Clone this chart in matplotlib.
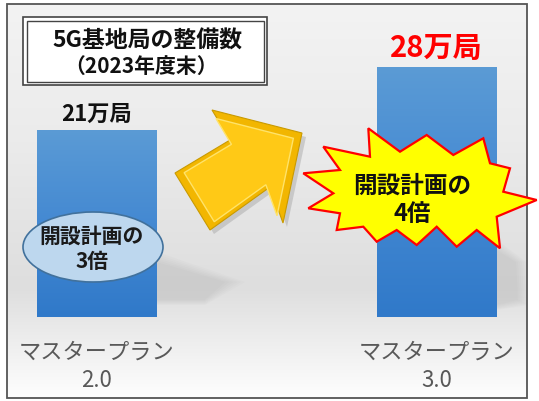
import numpy as np
import matplotlib
matplotlib.use("Agg")
import matplotlib.pyplot as plt
from matplotlib.patches import Rectangle, Polygon, Ellipse
from matplotlib.colors import LinearSegmentedColormap

plt.rcParams['font.family'] = ['Noto Sans CJK JP', 'DejaVu Sans']

# ---- data ----
categories = ["マスタープラン\n2.0", "マスタープラン\n3.0"]
values = [21, 28]            # 万局
value_labels = ["21万局", "28万局"]
value_colors = ["#111111", "#ff0000"]
value_sizes = [16, 21]
title_lines = ["5G基地局の整備数", "（2023年度末）"]
note_left = "開設計画の\n3倍"
note_right = "開設計画の\n4倍"

W, H = 539, 401
fig = plt.figure(figsize=(W / 100, H / 100), dpi=100)
fig.patch.set_facecolor("white")

def fx(px):
    return px / W

def fy(py):
    return 1 - py / H

# ---- background gradient axes ----
bg = fig.add_axes([0, 0, 1, 1], zorder=0)
bg.set_xlim(0, W); bg.set_ylim(H, 0); bg.axis("off")
cmap_bg = LinearSegmentedColormap.from_list(
    "bg", [(0, "#f3f3f3"), (0.35, "#ebebeb"), (0.72, "#dedede"), (1.0, "#fefefe")])
grad = np.linspace(0, 1, 256).reshape(-1, 1)
bg.imshow(grad, cmap=cmap_bg, extent=[7, 527, 398, 4], aspect="auto", zorder=0)

# soft shadows
for k in range(6):
    a = 0.03
    bg.add_patch(Polygon([(157, 262 - k * 2), (225 + k * 4, 282), (205, 300 + k), (157, 300 + k)],
                         closed=True, facecolor="#808080", edgecolor="none", alpha=a, zorder=1))
    bg.add_patch(Polygon([(497, 250 - k * 2), (516 + k * 2, 262), (518 + k * 2, 300 + k), (497, 305 + k)],
                         closed=True, facecolor="#808080", edgecolor="none", alpha=a, zorder=1))

# ---- bar axes ----
base_py, top_py = 317, 4
left_px, right_px = 7, 527
px_per_unit_y = 250 / 28
ax = fig.add_axes([fx(left_px), fy(base_py), (right_px - left_px) / W, (base_py - top_py) / H], zorder=1)
ax.patch.set_alpha(0)
x = np.arange(len(values))
bar_w = 120 / 339.5
bars = ax.bar(x, values, width=bar_w, color="#4d8fd6", edgecolor="none")

cmap_bar = LinearSegmentedColormap.from_list("bar", ["#5b9bd5", "#4489d2", "#3079c9"])
for b in bars:
    x0, y0 = b.get_x(), b.get_y()
    im = ax.imshow(np.linspace(0, 1, 256).reshape(-1, 1), cmap=cmap_bar,
                   extent=[x0, x0 + b.get_width(), y0, y0 + b.get_height()],
                   aspect="auto", zorder=2)
    im.set_clip_path(b)
ax.set_xlim((left_px - 97) / 339.5, (right_px - 97) / 339.5)
ax.set_ylim(0, (base_py - top_py) / px_per_unit_y)

for xi, v, lab, c, s in zip(x, values, value_labels, value_colors, value_sizes):
    ax.text(xi, v + 0.4, lab, ha="center", va="bottom", fontsize=s,
            fontweight="bold", color=c, zorder=3)

ax.set_xticks(x, categories)
ax.tick_params(axis="x", length=0, pad=17, labelsize=16, labelcolor="#595959")
for t in ax.get_xticklabels():
    t.set_linespacing(1.3)
ax.set_yticks([])
for sp in ax.spines.values():
    sp.set_visible(False)

# ---- decoration axes ----
deco = fig.add_axes([0, 0, 1, 1], zorder=2)
deco.set_xlim(0, W); deco.set_ylim(H, 0); deco.axis("off")
deco.patch.set_alpha(0)

# outer frame
deco.add_patch(Rectangle((7, 4), 520, 394, fill=False, edgecolor="#555555", lw=1.3))

# title box (double border)
deco.add_patch(Rectangle((23, 17), 244, 68, facecolor="white", edgecolor="#444444", lw=1.2))
deco.add_patch(Rectangle((26.5, 20.5), 237, 61, fill=False, edgecolor="#444444", lw=1.0))
deco.text(147, 41, title_lines[0], ha="center", va="center", fontsize=16.5,
          fontweight="bold", color="#111111")
deco.text(141, 66, title_lines[1], ha="center", va="center", fontsize=15,
          fontweight="bold", color="#111111")

# big yellow arrow
arrow = [(302, 133), (212, 110), (230, 140), (175, 173), (210, 230), (270, 187), (283, 223)]
shadow = [(px + 4, py + 4) for px, py in arrow]
deco.add_patch(Polygon(shadow, closed=True, facecolor="#909090", edgecolor="none", alpha=0.35))
deco.add_patch(Polygon(arrow, closed=True, facecolor="#f2b600", edgecolor="#c99a00", lw=0.8))
cx = np.mean([p[0] for p in arrow]); cy = np.mean([p[1] for p in arrow])
inner = [(cx + (px - cx) * 0.86, cy + (py - cy) * 0.86) for px, py in arrow]
deco.add_patch(Polygon(inner, closed=True, facecolor="#ffc916", edgecolor="#ffe36a", lw=1.0))

# ellipse on left bar
deco.add_patch(Ellipse((93, 247), 140, 70, facecolor="#bdd7ee", edgecolor="#41719c", lw=1.2))
deco.text(92, 249, note_left, ha="center", va="center", fontsize=15, fontweight="bold",
          color="#1a1a1a", linespacing=1.25)

# starburst
burst = [
    (368.3, 128.3), (400.0, 151.7), (426.7, 135.0), (453.3, 155.0), (483.3, 138.3),
    (490.0, 163.3), (510.0, 168.3), (503.3, 191.7), (536.7, 200.0), (496.7, 216.7),
    (500.0, 248.3), (476.7, 230.0), (456.7, 246.7), (436.7, 226.7), (416.7, 245.0),
    (396.7, 230.0), (376.7, 241.7), (363.3, 226.7), (336.7, 230.0), (340.0, 213.3),
    (308.3, 208.3), (333.3, 193.3), (303.3, 173.3), (340.0, 170.0), (323.3, 146.7),
    (370.0, 156.7),
]
deco.add_patch(Polygon(burst, closed=True, facecolor="#ffff00", edgecolor="#ff0000", lw=1.6))
deco.text(412, 200, note_right, ha="center", va="center", fontsize=17, fontweight="bold",
          color="#111111", linespacing=1.25)

fig.savefig("out.png", dpi=100)
